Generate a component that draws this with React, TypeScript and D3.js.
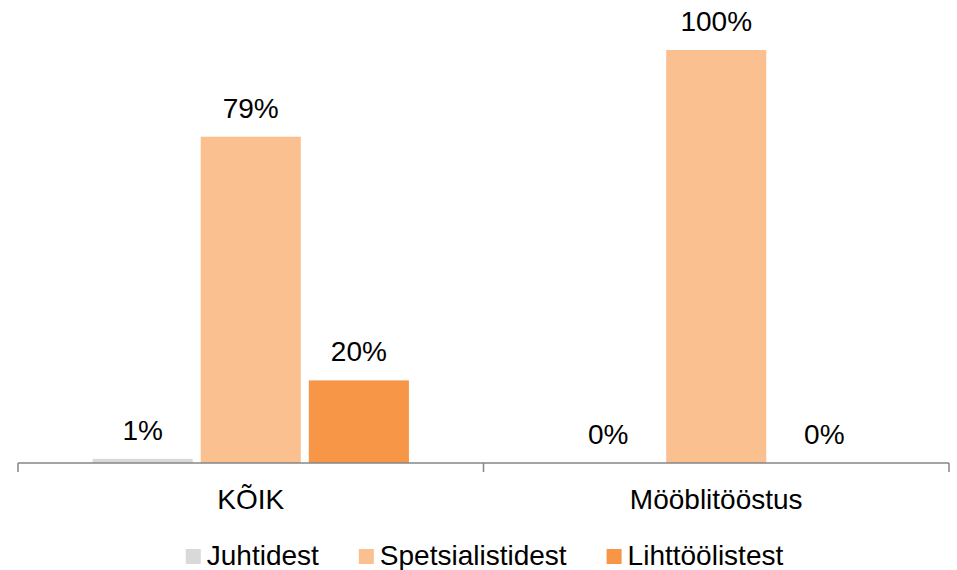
import { useMemo } from "react";
import * as d3 from "d3";

const categories = ["KÕIK", "Mööblitööstus"];
const series = ["Juhtidest", "Spetsialistidest", "Lihttöölistest"];
const colors = ["#D9D9D9", "#FAC090", "#F79646"];
const values = [
  [0.01, 0.79, 0.2],
  [0, 1, 0],
];
const valueLabels = [
  ["1%", "79%", "20%"],
  ["0%", "100%", "0%"],
];

const W = 957;
const H = 570;
const FONT = "'Liberation Sans', Arial, sans-serif";
const FS = 28;

function measure(text: string) {
  const ctx = document.createElement("canvas").getContext("2d");
  if (!ctx) return text.length * FS * 0.5;
  ctx.font = `${FS}px ${FONT}`;
  return ctx.measureText(text).width;
}

export default function App() {
  const x0 = d3.scaleBand().domain(categories).range([18, 949]);
  const x1 = d3
    .scaleBand()
    .domain(series)
    .range([0, x0.bandwidth()])
    .paddingInner(0.074)
    .paddingOuter(0.69);
  const y = d3.scaleLinear().domain([0, 1]).range([463, 50]);

  const legend = useMemo(() => {
    const sq = 15;
    const gapText = 6;
    const gapItem = 40;
    const widths = series.map((s) => sq + gapText + measure(s));
    const total = d3.sum(widths) + gapItem * (series.length - 1);
    let cx = 484.5 - total / 2;
    return series.map((s, i) => {
      const item = { name: s, x: cx, color: colors[i] };
      cx += widths[i] + gapItem;
      return item;
    });
  }, []);

  const ticks = [...categories.map((c) => x0(c) ?? 0), x0.range()[1]];

  return (
    <>
      <style>{"body{margin:0}"}</style>
      <svg width={W} height={H} style={{ display: "block", fontFamily: FONT }}>
        <rect width={W} height={H} fill="#fff" />
        {categories.map((c, ci) => (
          <g key={c} transform={`translate(${x0(c)},0)`}>
            {series.map((s, si) => {
              const v = values[ci][si];
              const bx = x1(s) ?? 0;
              return (
                <g key={s}>
                  <rect
                    x={bx}
                    y={y(v)}
                    width={x1.bandwidth()}
                    height={y(0) - y(v)}
                    fill={colors[si]}
                  />
                  <text
                    x={bx + x1.bandwidth() / 2}
                    y={y(v) - 19}
                    textAnchor="middle"
                    fontSize={FS}
                    fill="#000"
                  >
                    {valueLabels[ci][si]}
                  </text>
                </g>
              );
            })}
            <text
              x={x0.bandwidth() / 2}
              y={509}
              textAnchor="middle"
              fontSize={FS}
              fill="#000"
            >
              {c}
            </text>
          </g>
        ))}
        <line
          x1={x0.range()[0]}
          x2={x0.range()[1]}
          y1={y(0)}
          y2={y(0)}
          stroke="#868686"
          strokeWidth={1.5}
        />
        {ticks.map((t, i) => (
          <line
            key={i}
            x1={t}
            x2={t}
            y1={y(0)}
            y2={y(0) + 9}
            stroke="#868686"
            strokeWidth={1.5}
          />
        ))}
        {legend.map((l) => (
          <g key={l.name} transform={`translate(${l.x},0)`}>
            <rect x={0} y={549} width={15} height={15} fill={l.color} />
            <text x={21} y={565} fontSize={FS} fill="#000">
              {l.name}
            </text>
          </g>
        ))}
      </svg>
    </>
  );
}
